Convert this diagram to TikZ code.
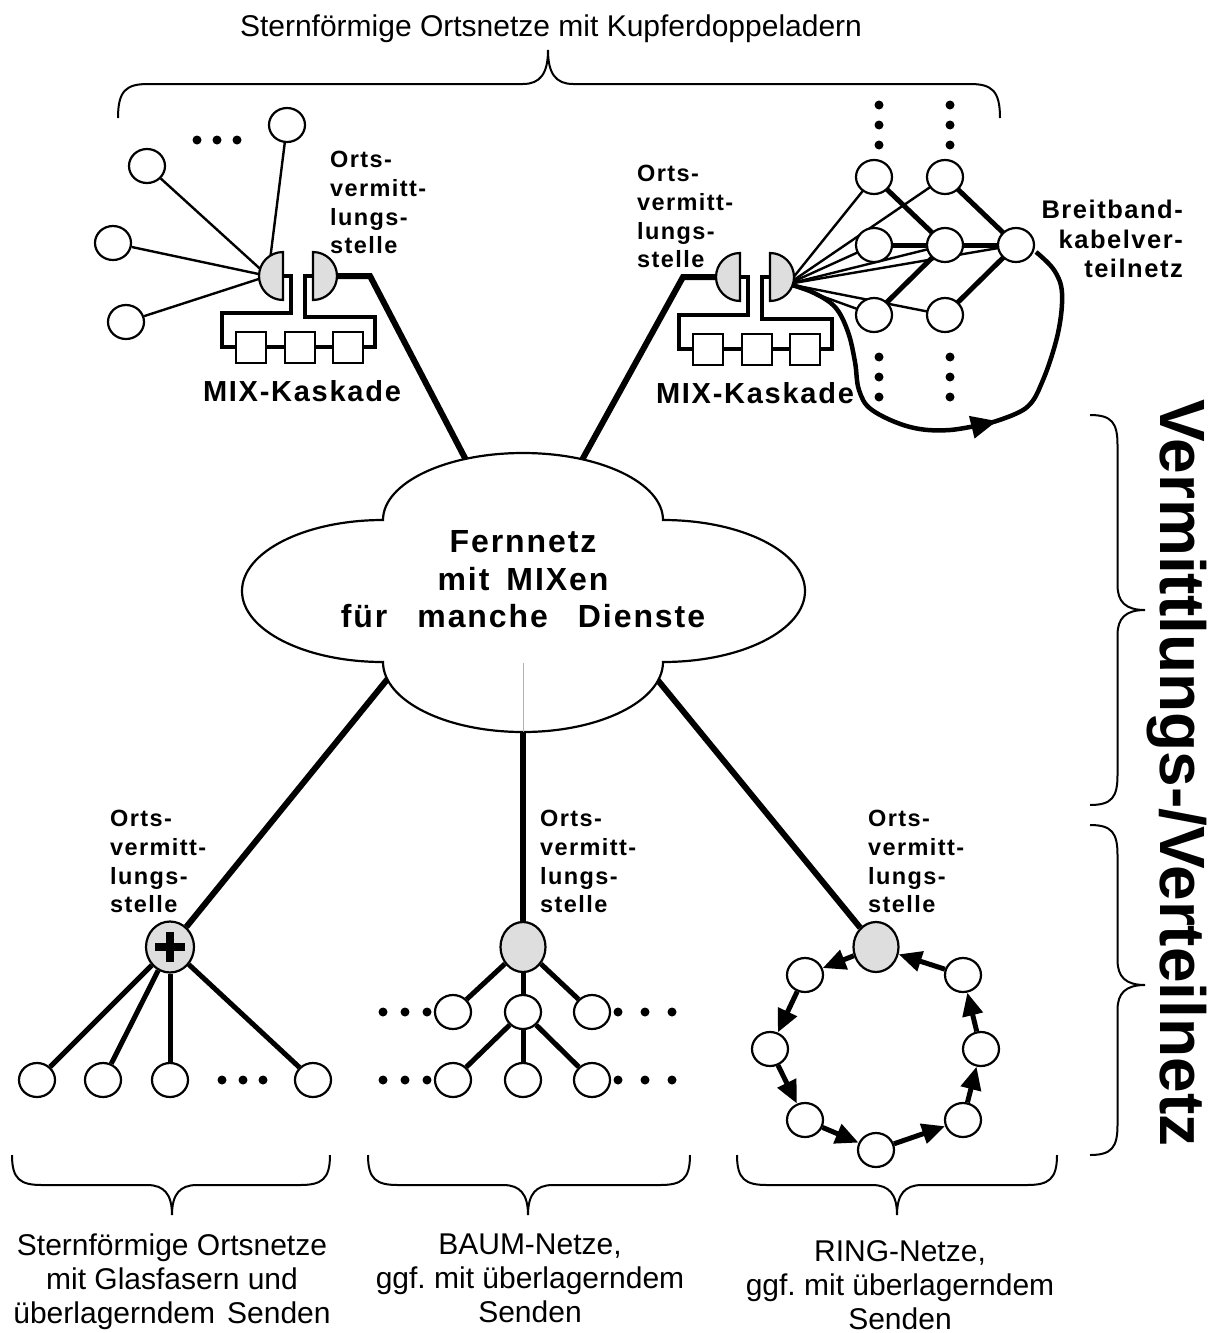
\documentclass[tikz,border=0pt]{standalone}
\usepackage{fontspec}
\setmainfont{Liberation Sans}
\newfontfamily\spacedfont[LetterSpace=6]{Liberation Sans}
\usetikzlibrary{calc,shapes.geometric,arrows.meta}
\frenchspacing
\newcommand{\lblfont}{\spacedfont\bfseries\fontsize{23.5}{28.7}\selectfont}
\newcommand{\mixfont}{\spacedfont\bfseries\fontsize{29}{34}\selectfont}
\newcommand{\cloudfont}{\spacedfont\bfseries\fontsize{32}{37.5}\selectfont}
\newcommand{\capfont}{\fontsize{30}{34}\selectfont}
\newcommand{\vertfont}{\bfseries\fontsize{64}{70}\selectfont}
\def\halfdisc(#1)(#2:#3:#4){\draw[disc] ($(#1)+({#4*cos(#2)},{#4*sin(#2)})$) arc (#2:#3:#4) -- cycle;}
\def\hbrace(#1:#2:#3)(#4:#5){%
  \pgfmathsetmacro\bh{(#5-#4)/2}
  \draw[bracket] (#1,#4) .. controls (#1,{#4+0.8*\bh}) and ({#1+8},{#4+\bh}) .. ({#1+30},{#4+\bh})
    -- ({#3-25},{#4+\bh}) .. controls ({#3-8},{#4+\bh}) and (#3,{#4+1.3*\bh}) .. (#3,#5)
    .. controls (#3,{#4+1.3*\bh}) and ({#3+8},{#4+\bh}) .. ({#3+25},{#4+\bh})
    -- ({#2-30},{#4+\bh}) .. controls ({#2-8},{#4+\bh}) and (#2,{#4+0.8*\bh}) .. (#2,#4);}
\def\vbrace(#1:#2:#3)(#4:#5){%
  \pgfmathsetmacro\bh{(#5-#4)/2}
  \draw[bracket] (#4,#1) .. controls ({#4+0.8*\bh},#1) and ({#4+\bh},{#1+8}) .. ({#4+\bh},{#1+30})
    -- ({#4+\bh},{#3-25}) .. controls ({#4+\bh},{#3-8}) and ({#4+1.3*\bh},#3) .. (#5,#3)
    .. controls ({#4+1.3*\bh},#3) and ({#4+\bh},{#3+8}) .. ({#4+\bh},{#3+25})
    -- ({#4+\bh},{#2-30}) .. controls ({#4+\bh},{#2-8}) and ({#4+0.8*\bh},#2) .. (#4,#2);}
\tikzset{
  station/.style={ellipse, draw, line width=2.2pt, fill=white, minimum width=36pt, minimum height=34pt, inner sep=0pt},
  exchange/.style={ellipse, draw, line width=2.2pt, fill=black!13, minimum width=45pt, minimum height=50pt, inner sep=0pt},
  mixbox/.style={rectangle, draw, line width=2pt, fill=white, minimum width=30pt, minimum height=31pt, inner sep=0pt},
  disc/.style={draw, line width=2.2pt, fill=black!13},
  trunk/.style={line width=6pt},
  branch/.style={line width=5pt},
  feeder/.style={line width=2.4pt},
  mixline/.style={line width=4pt},
  ringarrow/.style={line width=5pt, -{Triangle[length=23pt, width=20pt]}},
  loopline/.style={line width=4.5pt, line join=round},
  bracket/.style={line width=2pt},
  label/.style={font=\lblfont, align=left, anchor=north west, inner sep=0pt},
  caption/.style={font=\capfont, align=center, anchor=north, inner sep=0pt}
}

\begin{document}
\begin{tikzpicture}[x=1pt, y=-1pt]
		%%%%% START %%%%%
		\useasboundingbox (0, 0) rectangle (1216, 1333);
		
		\coordinate (cTL) at (466, 460);
		\coordinate (cTR) at (582, 460);
		\coordinate (cBL) at (390, 676);
		\coordinate (cB) at (523, 732);
		\coordinate (cBR) at (656, 678);
		
		\node[font=\capfont, anchor=base] (kupfer) at (551, 36) {Sternförmige Ortsnetze mit Kupferdoppeladern};
		\hbrace(118:1000:548)(118:50)
		
		%%%%% Ortsnetz links oben %%%%%
		\node[station] (a1) at (147, 166) {};
		\node[station] (a2) at (113, 243) {};
		\node[station] (a3) at (126, 322) {};
		\node[station] (a4) at (287, 125) {};
		\coordinate (hubA) at (268, 276);
		\coordinate (dlA) at (283, 276);
		\coordinate (drA) at (313, 276);
		\foreach \s in {a1,a2,a3,a4} \draw[feeder] (\s) -- (hubA);
		\fill (197, 140) circle (4.5);
		\fill (217, 140) circle (4.5);
		\fill (237, 140) circle (4.5);
		
		\node[mixbox] (k1) at (251, 347) {};
		\node[mixbox] (k2) at (300, 347) {};
		\node[mixbox] (k3) at (348, 347) {};
		\draw[mixline] (k1) -- (k2) -- (k3);
		\draw[mixline] (dlA) -- (291, 276) -- (291, 313) -- (222, 313) -- (222, 347) -- (k1);
		\draw[mixline] (k3) -- (375, 347) -- (375, 317) -- (305, 317) -- (305, 276) -- (drA);
		\draw[trunk] (drA) -- (370, 276) -- (cTL);
		\halfdisc(dlA)(90:270:24)
		\halfdisc(drA)(-90:90:24)
		\node[label] (ovstA) at (330, 151) {Orts-\\vermitt-\\lungs-\\stelle};
		\node[font=\mixfont] (kaskA) at (302, 391) {MIX-Kaskade};
		
		%%%%% Ortsnetz rechts oben %%%%%
		\coordinate (hubB) at (788, 284);
		\coordinate (dlB) at (740, 277);
		\coordinate (drB) at (770, 277);
		\coordinate (p11) at (874, 177);
		\coordinate (p12) at (945, 177);
		\coordinate (p21) at (874, 245);
		\coordinate (p22) at (945, 245);
		\coordinate (p23) at (1016, 245);
		\coordinate (p31) at (874, 315);
		\coordinate (p32) at (945, 315);
		\foreach \p in {p11,p12,p21,p22,p23,p31,p32} \draw[feeder] (hubB) -- (\p);
		\draw[branch] (p11) -- (p22) -- (p31);
		\draw[branch] (p21) -- (p22) -- (p23);
		\draw[branch] (p12) -- (p23) -- (p32);
		\draw[loopline, -{Triangle[length=26pt, width=22pt]}] plot[smooth, tension=0.6] coordinates {(hubB) (812, 292) (835, 307) (848, 332) (855, 362) (859, 390) (872, 410) (910, 427) (950, 430) (997, 421)};
		\draw[loopline] plot[smooth, tension=0.6] coordinates {(990, 423) (1026, 408) (1043, 380) (1058, 333) (1062, 293) (1054, 270) (1036, 252)};
		\foreach \p in {11,12,21,22,23,31,32} \node[station] (m\p) at (p\p) {};
		\foreach \x in {879, 950} {
			\foreach \y in {105, 125, 145, 357, 377, 397} \fill (\x, \y) circle (4.5);
		}
		
		\node[mixbox] (k4) at (708, 349) {};
		\node[mixbox] (k5) at (757, 349) {};
		\node[mixbox] (k6) at (805, 349) {};
		\draw[mixline] (k4) -- (k5) -- (k6);
		\draw[mixline] (dlB) -- (748, 277) -- (748, 315) -- (679, 315) -- (679, 349) -- (k4);
		\draw[mixline] (k6) -- (832, 349) -- (832, 319) -- (762, 319) -- (762, 277) -- (drB);
		\draw[trunk] (dlB) -- (683, 277) -- (cTR);
		\halfdisc(dlB)(90:270:24)
		\halfdisc(drB)(-90:90:24)
		\node[label] (ovstB) at (637, 165) {Orts-\\vermitt-\\lungs-\\stelle};
		\node[font=\mixfont] (kaskB) at (755, 393) {MIX-Kaskade};
		\node[label, align=right, anchor=north east, font=\lblfont\fontsize{25.5}{29.5}\selectfont] (bkvn) at (1183, 200) {Breitband-\\kabelver-\\teilnetz};
		
		%%%%% Ortsnetze unten %%%%%
		\node[exchange, minimum width=48pt, minimum height=51pt] (hubS) at (170, 947) {};
		\node[exchange] (hubT) at (523, 947) {};
		\node[exchange] (hubR) at (876, 947) {};
		\draw[trunk] (cBL) -- (hubS);
		\draw[trunk] (cB) -- (hubT);
		\draw[trunk] (cBR) -- (hubR);
		\draw[line width=8pt] ($(hubS)+(-15, 0)$) -- ($(hubS)+(15, 0)$);
		\draw[line width=8pt] ($(hubS)+(0, -15)$) -- ($(hubS)+(0, 15)$);
		
		% Stern
		\node[station] (s1) at (37, 1080) {};
		\node[station] (s2) at (103, 1080) {};
		\node[station] (s3) at (170, 1080) {};
		\node[station] (s4) at (313, 1080) {};
		\foreach \s in {s1,s2,s3,s4} \draw[branch] (hubS) -- (\s);
		\fill (222, 1080) circle (4.5);
		\fill (243, 1080) circle (4.5);
		\fill (263, 1080) circle (4.5);
		\node[label] (ovstS) at (110, 810) {Orts-\\vermitt-\\lungs-\\stelle};
		
		% Baum
		\node[station] (t1) at (453, 1012) {};
		\node[station] (t2) at (523, 1012) {};
		\node[station] (t3) at (592, 1012) {};
		\node[station] (t4) at (453, 1080) {};
		\node[station] (t5) at (523, 1080) {};
		\node[station] (t6) at (592, 1080) {};
		\foreach \t in {t1,t2,t3} \draw[branch] (hubT) -- (\t);
		\foreach \t in {t4,t5,t6} \draw[branch] (t2) -- (\t);
		\foreach \y in {1012, 1080} {
			\foreach \x in {383, 405, 427, 618, 645, 672} \fill (\x, \y) circle (4.5);
		}
		\node[label] (ovstT) at (540, 810) {Orts-\\vermitt-\\lungs-\\stelle};
		
		% Ring
		\node[station] (rg1) at (805, 975) {};
		\node[station] (rg2) at (770, 1049) {};
		\node[station] (rg3) at (805, 1120) {};
		\node[station] (rg4) at (876, 1150) {};
		\node[station] (rg5) at (963, 1120) {};
		\node[station] (rg6) at (981, 1049) {};
		\node[station] (rg7) at (963, 975) {};
		\foreach \a/\b in {hubR/rg1, rg1/rg2, rg2/rg3, rg3/rg4, rg4/rg5, rg5/rg6, rg6/rg7, rg7/hubR} \draw[ringarrow] (\a) -- (\b);
		\node[label] (ovstR) at (868, 810) {Orts-\\vermitt-\\lungs-\\stelle};
		
		%%%%% Fernnetz %%%%%
		\draw[line width=2.2pt, fill=white] (383, 520) arc[start angle=180, end angle=360, x radius=140, y radius=67]
			arc[start angle=-90, end angle=90, x radius=142, y radius=71]
			arc[start angle=0, end angle=180, x radius=140, y radius=70]
			arc[start angle=90, end angle=270, x radius=141, y radius=71] -- cycle;
		\draw[black!30, line width=0.8pt] (523, 663) -- (cB);
		\node[font=\cloudfont, align=center, anchor=north] (fern) at (523, 527) {Fernnetz\\mit\hspace{17pt}MIXen\\für\hspace{30pt}manche\hspace{30pt}Dienste};
		
		%%%%% Klammern %%%%%
		\vbrace(415:805:610)(1090:1145)
		\vbrace(825:1155:985)(1090:1145)
		\node[font=\vertfont, rotate=-90] (vvnetz) at (1177, 773) {Vermittlungs-/Verteilnetz};
		
		\hbrace(12:330:172)(1155:1215)
		\hbrace(368:690:528)(1155:1215)
		\hbrace(737:1057:897)(1155:1215)
		\node[caption] (sterntext) at (172, 1234) {Sternförmige Ortsnetze\\mit Glasfasern und\\überlagerndem\hspace{12pt}Senden};
		\node[caption] (baumtext) at (530, 1234) {BAUM-Netze,\\ggf. mit überlagerndem\\Senden};
		\node[caption] (ringtext) at (900, 1240) {RING-Netze,\\ggf. mit überlagerndem\\Senden};
		
		%%%%% END %%%%%
	\end{tikzpicture}
\end{document}
